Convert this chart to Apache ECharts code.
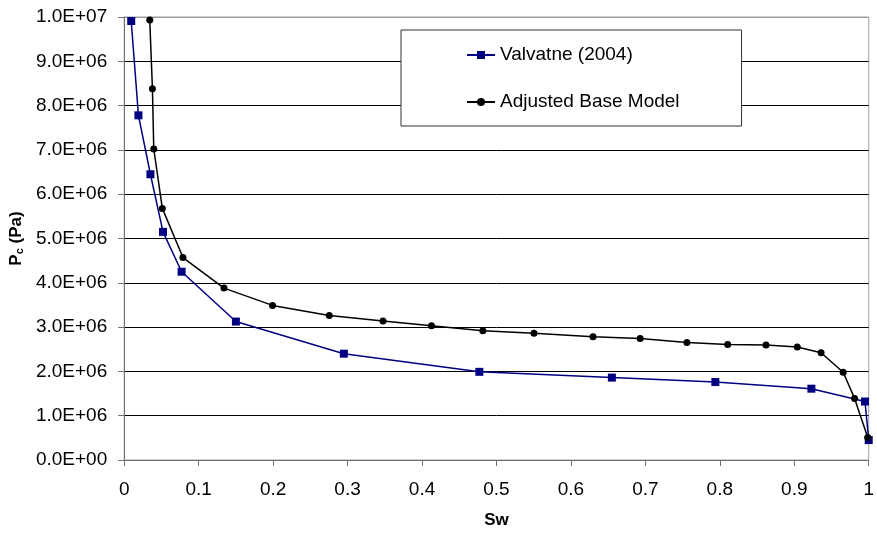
<!DOCTYPE html>
<html>
<head>
<meta charset="utf-8">
<script src="https://cdn.jsdelivr.net/npm/echarts@6/dist/echarts.min.js"></script>
<style>
  html, body { margin: 0; padding: 0; background: #fff; }
  #chart { width: 877px; height: 534px; }
</style>
</head>
<body>
<div id="chart"></div>
<script>
// Capillary pressure curves: water saturation vs. Pc
const valvatneSw = [0.0094, 0.0191, 0.0352, 0.0521, 0.0771, 0.150, 0.295, 0.477, 0.655, 0.794, 0.923, 0.995, 1.0];
const valvatnePc = [9.91e6, 7.78e6, 6.45e6, 5.15e6, 4.25e6, 3.125e6, 2.40e6, 1.99e6, 1.86e6, 1.76e6, 1.61e6, 1.32e6, 0.45e6];

const adjustedSw = [0.0343, 0.0379, 0.0397, 0.0512, 0.0789, 0.134, 0.1992, 0.2754, 0.3476, 0.4127, 0.4817, 0.5504, 0.6297, 0.693, 0.7558, 0.8106, 0.862, 0.904, 0.936, 0.9657, 0.981, 0.9987];
const adjustedPc = [9.93e6, 8.38e6, 7.02e6, 5.68e6, 4.57e6, 3.88e6, 3.49e6, 3.26e6, 3.14e6, 3.03e6, 2.92e6, 2.86e6, 2.78e6, 2.74e6, 2.65e6, 2.61e6, 2.595e6, 2.55e6, 2.42e6, 1.98e6, 1.39e6, 0.51e6];

const seriesNames = ['Valvatne (2004)', 'Adjusted Base Model'];

const pairs = (xs, ys) => xs.map((x, i) => [x, ys[i]]);

// "1.0E+07" style scientific labels
function sci(v) {
  const parts = Number(v).toExponential(1).split('e');
  const sign = parts[1][0] === '-' ? '-' : '+';
  let exp = parts[1].replace(/^[+-]/, '');
  if (exp.length < 2) exp = '0' + exp;
  return parts[0] + 'E' + sign + exp;
}

const FONT = '"Liberation Sans", Arial, sans-serif';
const gridColors = ['#555'].concat(Array(9).fill('#000')).concat(['#9a9a9a']);

const chart = echarts.init(document.getElementById('chart'), null, { renderer: 'canvas' });
chart.setOption({
  animation: false,
  backgroundColor: '#fff',
  textStyle: { fontFamily: FONT },
  grid: {
    left: 124, right: 5, top: 17, bottom: 70,
    show: true, borderColor: '#a0a0a0', borderWidth: 1, backgroundColor: '#fff'
  },
  legend: {
    orient: 'vertical',
    left: 401, top: 30,
    padding: [15, 62, 14, 65],
    itemWidth: 28,
    itemHeight: 10,
    itemGap: 27,
    itemTextGap: 3,
    borderColor: '#333',
    borderWidth: 1,
    backgroundColor: '#fff',
    textStyle: { fontFamily: FONT, fontSize: 19, color: '#000', lineHeight: 20 },
    data: seriesNames
  },
  xAxis: {
    type: 'value',
    min: 0, max: 1, interval: 0.1,
    name: 'Sw',
    nameLocation: 'middle',
    nameGap: 52,
    nameTextStyle: { fontFamily: FONT, fontSize: 17, fontWeight: 'bold', color: '#000' },
    axisLine: { show: true, lineStyle: { color: '#707070', width: 1 } },
    axisTick: { show: true, inside: false, length: 6, lineStyle: { color: '#707070' } },
    axisLabel: { fontFamily: FONT, fontSize: 19, color: '#000', margin: 20 },
    splitLine: { show: false }
  },
  yAxis: {
    type: 'value',
    min: 0, max: 1e7, interval: 1e6,
    name: '{b|P}{s|c}{b| (Pa)}',
    nameLocation: 'middle',
    nameRotate: 90,
    nameGap: 89,
    nameTextStyle: {
      rich: {
        b: { fontFamily: FONT, fontSize: 17, fontWeight: 'bold', color: '#000' },
        s: { fontFamily: FONT, fontSize: 11, fontWeight: 'bold', color: '#000', padding: [6, 0, 0, 0] }
      }
    },
    axisLine: { show: true, lineStyle: { color: '#707070', width: 1 } },
    axisTick: { show: true, inside: false, length: 6, lineStyle: { color: '#707070' } },
    axisLabel: { fontFamily: FONT, fontSize: 19, color: '#000', margin: 17, formatter: sci },
    splitLine: { show: true, lineStyle: { color: gridColors, width: 1 } }
  },
  series: [
    {
      name: seriesNames[0],
      type: 'line',
      data: pairs(valvatneSw, valvatnePc),
      symbol: 'rect',
      symbolSize: 8,
      itemStyle: { color: '#000080' },
      lineStyle: { color: '#000080', width: 1.5 },
      clip: true
    },
    {
      name: seriesNames[1],
      type: 'line',
      data: pairs(adjustedSw, adjustedPc),
      symbol: 'circle',
      symbolSize: 7,
      itemStyle: { color: '#000' },
      lineStyle: { color: '#000', width: 1.5 },
      clip: true
    }
  ]
});
</script>
</body>
</html>
